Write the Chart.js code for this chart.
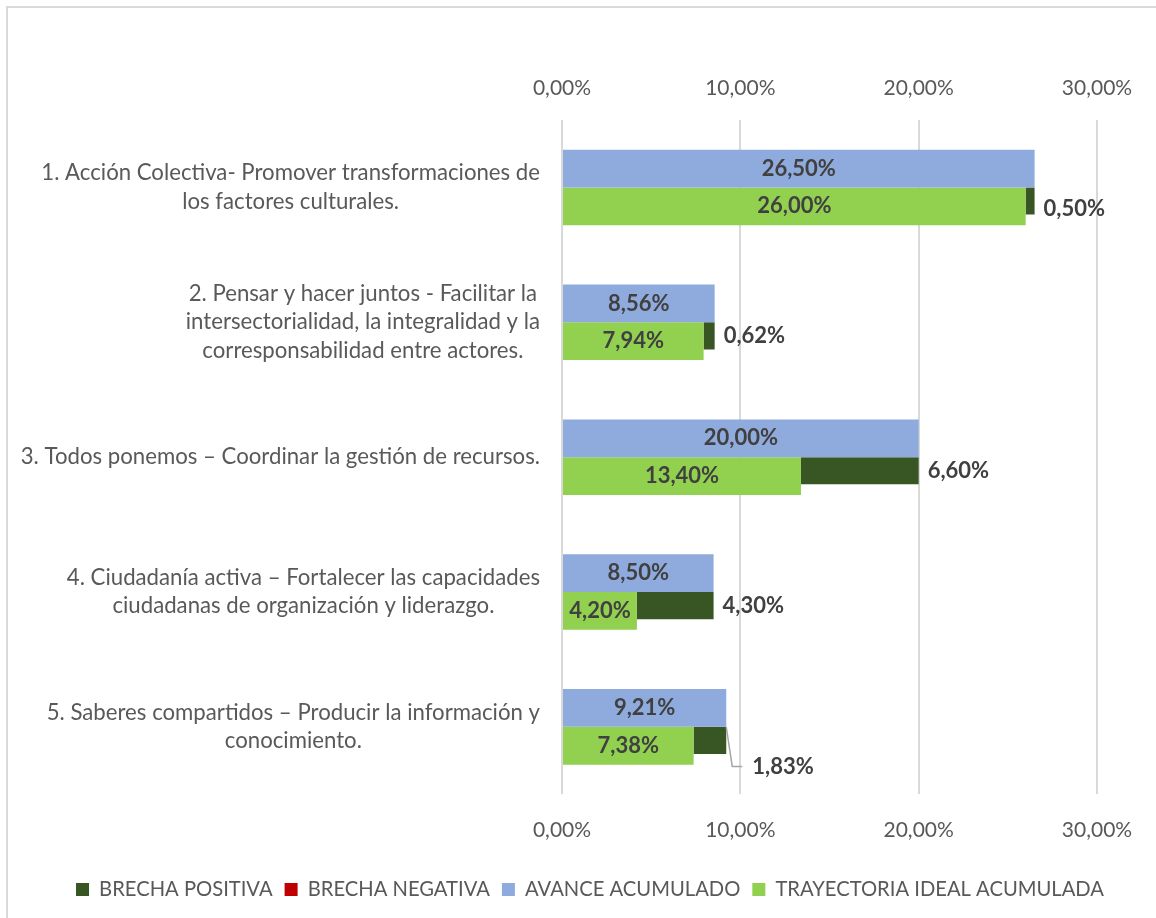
<!DOCTYPE html>
<html>
<head>
<meta charset="utf-8">
<script src="https://cdn.jsdelivr.net/npm/chart.js@4.4.1/dist/chart.umd.min.js"></script>
<style>
    html, body { margin: 0; padding: 0; background: #fff; overflow: hidden; }
    #frame { position: absolute; left: 6px; top: 6px; width: 1300px; height: 1100px; border: 2px solid #d9d9d9; }
    #wrap { position: absolute; left: 0; top: 0; width: 1156px; height: 918px; }
</style>
</head>
<body>
<div id="frame"></div>
<div id="wrap"><canvas id="brechasChart"></canvas></div>
<script>
const categories = [
    ['1. Acción Colectiva- Promover transformaciones de', 'los factores culturales.'],
    ['2. Pensar y hacer juntos - Facilitar la', 'intersectorialidad, la integralidad y la', 'corresponsabilidad entre actores.'],
    ['3. Todos ponemos – Coordinar la gestión de recursos.'],
    ['4. Ciudadanía activa – Fortalecer las capacidades', 'ciudadanas de organización y liderazgo.'],
    ['5. Saberes compartidos – Producir la información y', 'conocimiento.']
];
const avanceAcumulado = [26.50, 8.56, 20.00, 8.50, 9.21];
const trayectoriaIdeal = [26.00, 7.94, 13.40, 4.20, 7.38];
const brechaPositiva = [0.50, 0.62, 6.60, 4.30, 1.83];
const brechaNegativa = [0, 0, 0, 0, 0];
const xTicks = [0, 10, 20, 30];
const legendOrder = ['BRECHA POSITIVA', 'BRECHA NEGATIVA', 'AVANCE ACUMULADO', 'TRAYECTORIA IDEAL ACUMULADA'];

const FONT = 'Lato';
const fmt = v => v.toFixed(2).replace('.', ',') + '%';

// category labels: block right-aligned against the axis, lines centred inside the block
const categoryLabels = {
    id: 'categoryLabels',
    afterDraw(chart) {
        const ctx = chart.ctx;
        const y = chart.scales.y;
        const right = chart.chartArea.left - 22;
        const lh = 28.5;
        ctx.save();
        ctx.font = '22.2px ' + FONT;
        ctx.fillStyle = '#595959';
        ctx.textAlign = 'center';
        ctx.textBaseline = 'middle';
        categories.forEach((lines, i) => {
            const w = Math.max(...lines.map(l => ctx.measureText(l).width));
            const cy = y.getPixelForValue(i);
            const top = cy - (lines.length - 1) * lh / 2;
            lines.forEach((l, j) => ctx.fillText(l, right - w / 2, top + j * lh));
        });
        ctx.restore();
    }
};

// value labels; the gap label of the last row sits lower, with a leader line
const gapNudge = [8, 0, 0, 0, 26];
const valueLabels = {
    id: 'valueLabels',
    afterDatasetsDraw(chart) {
        const ctx = chart.ctx;
        ctx.save();
        ctx.font = 'bold 22px ' + FONT;
        ctx.fillStyle = '#404040';
        ctx.textBaseline = 'middle';
        [0, 1].forEach(di => {
            chart.getDatasetMeta(di).data.forEach((bar, i) => {
                ctx.textAlign = 'center';
                ctx.fillText(fmt(chart.data.datasets[di].data[i]), (bar.x + bar.base) / 2, bar.y);
            });
        });
        chart.getDatasetMeta(2).data.forEach((bar, i) => {
            const ly = bar.y + gapNudge[i];
            let lx = bar.x + 9;
            if (gapNudge[i] > 20) {
                const top = bar.y - bar.height / 2;
                ctx.strokeStyle = '#a6a6a6';
                ctx.lineWidth = 1.5;
                ctx.beginPath();
                ctx.moveTo(bar.x, top);
                ctx.lineTo(bar.x + 6, ly);
                ctx.lineTo(bar.x + 16, ly);
                ctx.stroke();
                lx = bar.x + 26;
            }
            ctx.textAlign = 'left';
            ctx.fillText(fmt(brechaPositiva[i]), lx, ly);
        });
        ctx.restore();
    }
};

const tickOpts = (pad) => ({
    stepSize: 10,
    padding: pad,
    color: '#595959',
    font: { family: FONT, size: 21 },
    callback: v => xTicks.includes(v) ? fmt(v) : ''
});

const ctx = document.getElementById('brechasChart').getContext('2d');
new Chart(ctx, {
    type: 'bar',
    data: {
        labels: categories.map(c => c.join(' ')),
        datasets: [
            { label: 'AVANCE ACUMULADO', data: avanceAcumulado, stack: 'a', backgroundColor: '#8faadc',
              categoryPercentage: 0.56, barPercentage: 1 },
            { label: 'TRAYECTORIA IDEAL ACUMULADA', data: trayectoriaIdeal, stack: 'b', backgroundColor: '#92d050',
              categoryPercentage: 0.56, barPercentage: 1 },
            { label: 'BRECHA POSITIVA', data: brechaPositiva, stack: 'b', backgroundColor: '#375623',
              categoryPercentage: 0.403, barPercentage: 1 },
            { label: 'BRECHA NEGATIVA', data: brechaNegativa, stack: 'b', backgroundColor: '#c00000',
              categoryPercentage: 0.403, barPercentage: 1 }
        ]
    },
    options: {
        indexAxis: 'y',
        responsive: true,
        maintainAspectRatio: false,
        animation: false,
        layout: { padding: { left: 24, right: 0, top: 76, bottom: 8.5 } },
        scales: {
            x: {
                stacked: true,
                min: 0, max: 30,
                grid: { color: '#d9d9d9', lineWidth: 2, drawTicks: false },
                border: { display: false },
                ticks: tickOpts(23),
                afterFit: s => { s.height = 73; }
            },
            x2: {
                position: 'top',
                min: 0, max: 30,
                grid: { display: false, drawTicks: false },
                border: { display: false },
                ticks: tickOpts(19),
                afterFit: s => { s.height = 44; }
            },
            y: {
                stacked: true,
                grid: { display: false, drawTicks: false },
                border: { display: false },
                ticks: { display: false },
                afterFit: s => { s.width = 538; }
            },
            // empty right axis only keeps room on the right of the plot
            yRight: {
                position: 'right',
                grid: { display: false, drawTicks: false },
                border: { display: false },
                ticks: { display: false },
                afterFit: s => { s.width = 59; }
            }
        },
        plugins: {
            tooltip: { enabled: false },
            legend: {
                position: 'bottom',
                labels: {
                    boxWidth: 13,
                    boxHeight: 13,
                    padding: 12,
                    color: '#595959',
                    font: { family: FONT, size: 20.2 },
                    sort: (a, b) => legendOrder.indexOf(a.text) - legendOrder.indexOf(b.text)
                }
            }
        }
    },
    plugins: [categoryLabels, valueLabels]
});
</script>
</body>
</html>
